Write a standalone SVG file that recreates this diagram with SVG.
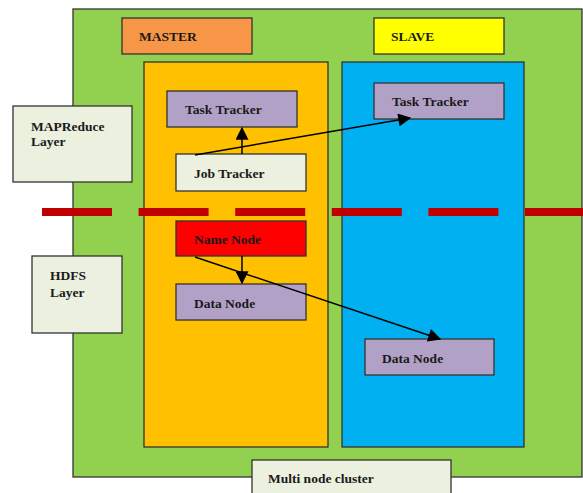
<svg xmlns="http://www.w3.org/2000/svg" width="583" height="493" viewBox="0 0 583 493">
<defs>
<style>
.b{stroke:#333;stroke-width:1.3}
.t{font-family:"Liberation Serif","Times New Roman",serif;font-weight:bold;font-size:13.5px;fill:#1a1a1a}
.c{stroke:#000;stroke-width:1.5;fill:none}
.d{stroke:#C00000;stroke-width:8;stroke-dasharray:70 26.6}
</style>
<marker id="ahl" viewBox="0 0 10 10" refX="9" refY="5" markerWidth="14" markerHeight="13" markerUnits="userSpaceOnUse" orient="auto">
<path d="M0,0 L10,5 L0,10 Z" fill="#000"/>
</marker>
</defs>
<rect width="583" height="493" fill="#fff"/>
<g id="cluster"><rect class="b" x="73" y="9" width="509" height="468" fill="#92D050"/></g>
<g id="master-label"><rect class="b" x="122" y="18" width="130" height="36" fill="#F79646"/><text class="t" x="139" y="41">MASTER</text></g>
<g id="slave-label"><rect class="b" x="374" y="18" width="130" height="36" fill="#FFFF00"/><text class="t" x="391" y="41">SLAVE</text></g>
<g id="master"><rect class="b" x="144" y="62" width="184" height="385" fill="#FFC000"/></g>
<g id="slave"><rect class="b" x="342" y="62" width="182" height="385" fill="#00B0F0"/></g>
<g id="mapreduce-layer"><rect class="b" x="13" y="106" width="119" height="76" fill="#EBF1DE"/><text class="t" x="31" y="131">MAPReduce</text><text class="t" x="31" y="146">Layer</text></g>
<g id="hdfs-layer"><rect class="b" x="32" y="256" width="90" height="77" fill="#EBF1DE"/><text class="t" x="50" y="280">HDFS</text><text class="t" x="50" y="297">Layer</text></g>
<g id="divider"><line class="d" x1="42" y1="212" x2="583" y2="212"/></g>
<g id="master-task-tracker"><rect class="b" x="167" y="91" width="130" height="36" fill="#B2A1C7"/><text class="t" x="185" y="114">Task Tracker</text></g>
<g id="slave-task-tracker"><rect class="b" x="374" y="83" width="130" height="36" fill="#B2A1C7"/><text class="t" x="392" y="106">Task Tracker</text></g>
<g id="job-tracker"><rect class="b" x="176" y="154" width="130" height="37" fill="#EBF1DE"/><text class="t" x="194" y="178">Job Tracker</text></g>
<g id="name-node"><rect class="b" x="176" y="221" width="130" height="35" fill="#FF0000"/><text class="t" x="194" y="244">Name Node</text></g>
<g id="master-data-node"><rect class="b" x="176" y="284" width="130" height="36" fill="#B2A1C7"/><text class="t" x="194" y="308">Data Node</text></g>
<g id="slave-data-node"><rect class="b" x="365" y="339" width="129" height="36" fill="#B2A1C7"/><text class="t" x="382" y="363">Data Node</text></g>
<g id="multi-node-cluster"><rect class="b" x="252" y="460" width="199" height="40" fill="#EBF1DE"/><text class="t" x="268" y="483">Multi node cluster</text></g>
<g id="connectors">
<line class="c" x1="242" y1="154" x2="242" y2="128" marker-end="url(#ahl)"/>
<line class="c" x1="195" y1="155" x2="410" y2="118" marker-end="url(#ahl)"/>
<line class="c" x1="242" y1="256" x2="242" y2="283" marker-end="url(#ahl)"/>
<line class="c" x1="195" y1="257" x2="440" y2="339" marker-end="url(#ahl)"/>
</g>
</svg>
